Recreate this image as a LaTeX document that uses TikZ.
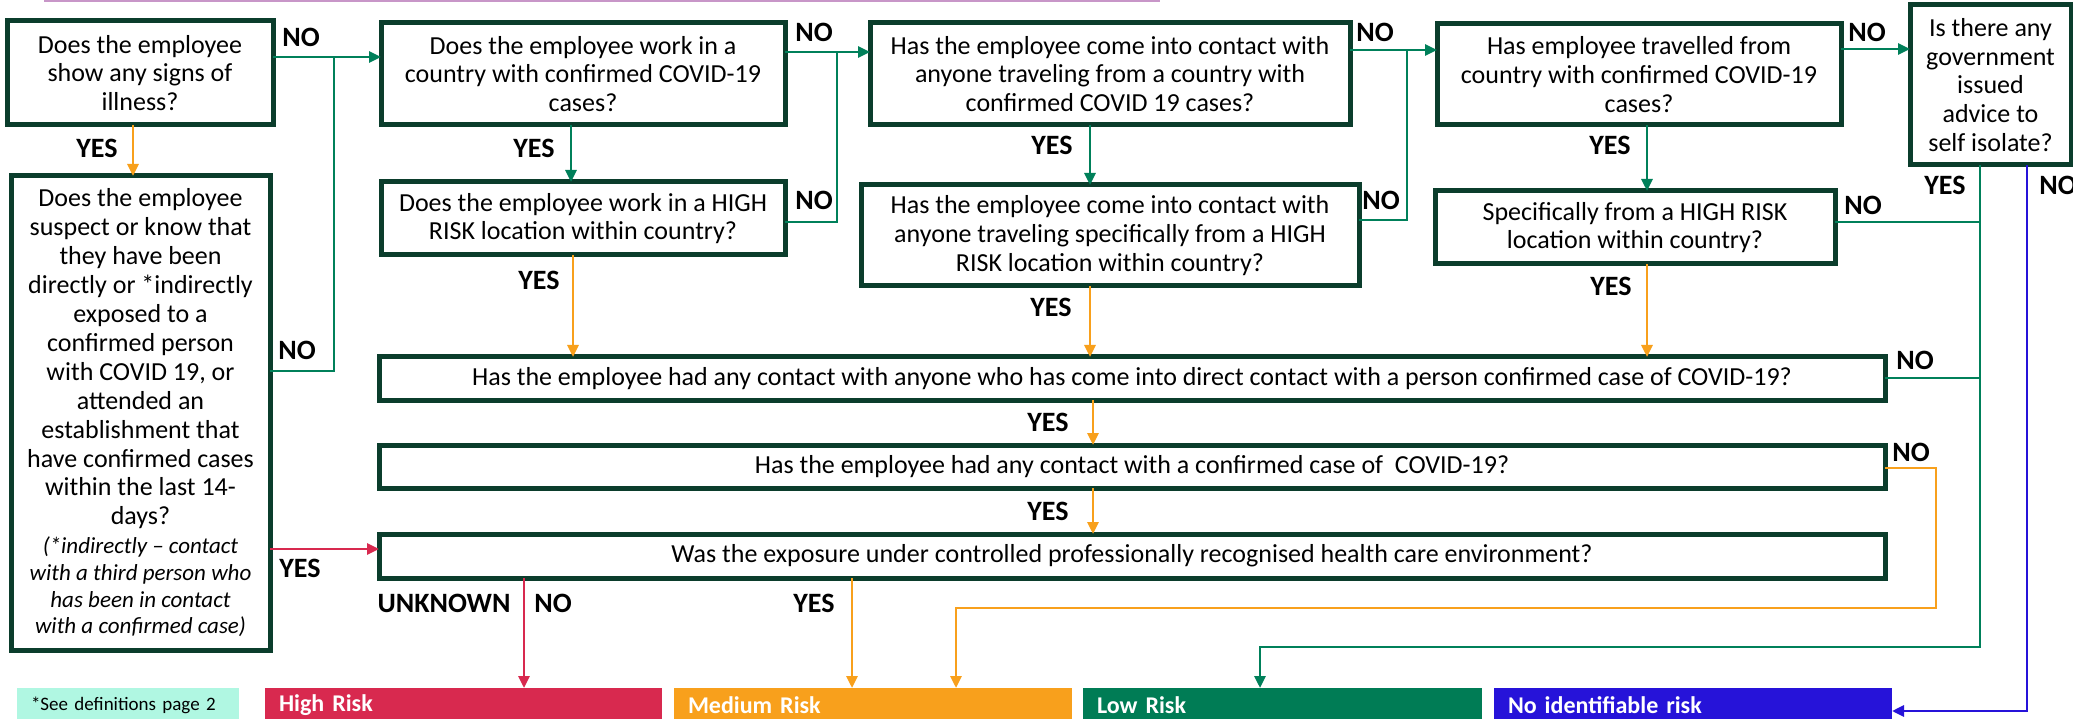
\documentclass[tikz,border=0pt]{standalone}
\usepackage{fontspec}
\setmainfont{Carlito}
\usetikzlibrary{arrows.meta}
\definecolor{bdr}{HTML}{0B3D2C}
\definecolor{cgreen}{HTML}{00805A}
\definecolor{cgreenbox}{HTML}{007C55}
\definecolor{corange}{HTML}{F8A01C}
\definecolor{cred}{HTML}{D8294F}
\definecolor{cblue}{HTML}{2613D9}
\definecolor{cmint}{HTML}{B0F7E2}
\definecolor{cpurple}{HTML}{C896C8}
\newcommand{\myital}[1]{{\itshape\fontsize{23}{28.9}\selectfont #1}}
\begin{document}
\begin{tikzpicture}[x=1pt,y=-1pt,
  qbox/.style={draw=bdr, line width=5pt, fill=white, inner sep=0pt, outer sep=0pt, align=center, font=\fontsize{26}{28.7}\selectfont},
  lbl/.style={font=\fontsize{28}{30}\selectfont\bfseries, inner sep=0pt},
  rbox/.style={anchor=north west, minimum height=34pt, inner xsep=14pt, inner ysep=0pt, outer sep=0pt, align=left, text=white, font=\fontsize{24}{28}\selectfont\bfseries},
  gline/.style={draw=cgreen, line width=2.8pt},
  oline/.style={draw=corange, line width=2.8pt},
  rline/.style={draw=cred, line width=2.8pt},
  bline/.style={draw=cblue, line width=2.8pt},
  arr/.style={-{Triangle[length=12pt,width=11pt]}}
]
\useasboundingbox (0,0) rectangle (2073,719);
\clip (0,0) rectangle (2073,719);
\fill[white] (0,0) rectangle (2073,719);

% top cut-off line
\draw[cpurple, line width=2pt] (44,1) -- (1160,1);

% question boxes
\node[qbox, minimum width=266pt, minimum height=104pt] (A) at (140,73) {Does the employee\\show any signs of\\illness?};
\node[qbox, minimum width=404pt, minimum height=102pt] (B) at (583,74) {Does the employee work in a\\country with confirmed COVID-19\\cases?};
\node[qbox, minimum width=480pt, minimum height=102pt] (D) at (1110,74) {Has the employee come into contact with\\anyone traveling from a country with\\confirmed COVID 19 cases?};
\node[qbox, minimum width=404pt, minimum height=101pt] (E) at (1639,74.5) {Has employee travelled from\\country with confirmed COVID-19\\cases?};
\node[qbox, minimum width=161pt, minimum height=160pt] (F) at (1990.5,85) {Is there any\\government\\issued\\advice to\\self isolate?};
\node[qbox, minimum width=404pt, minimum height=73pt] (B2) at (583,218.5) {Does the employee work in a HIGH\\RISK location within country?};
\node[qbox, minimum width=498pt, minimum height=101pt] (D2) at (1110,235.5) {Has the employee come into contact with\\anyone traveling specifically from a HIGH\\RISK location within country?};
\node[qbox, minimum width=400pt, minimum height=73pt] (E2) at (1635,227.5) {Specifically from a HIGH RISK\\location within country?};
\node[qbox, minimum width=259pt, minimum height=474pt, font=\fontsize{26}{28.9}\selectfont] (C) at (140.5,413) {Does the employee\\suspect or know that\\they have been\\directly or *indirectly\\exposed to a\\confirmed person\\with COVID 19, or\\attended an\\establishment that\\have confirmed cases\\within the last 14-\\days?\\\myital{(*indirectly – contact}\\[-2.2pt]\myital{with a third person who}\\[-2.2pt]\myital{has been in contact}\\[-2.2pt]\myital{with a confirmed case)}};
\node[qbox, minimum width=1506pt, minimum height=43pt] (G) at (1132,378.5) {Has the employee had any contact with anyone who has come into direct contact with a person confirmed case of COVID-19?};
\node[qbox, minimum width=1506pt, minimum height=43pt] (H) at (1132,466.5) {Has the employee had any contact with a confirmed case of~ COVID-19?};
\node[qbox, minimum width=1506pt, minimum height=44pt] (I) at (1132,556) {Was the exposure under controlled professionally recognised health care environment?};

% outcome boxes
\node[rbox, fill=cmint, text=black, font=\fontsize{19}{22}\selectfont, minimum width=222pt, text width=194pt] (DEF) at (17,688) {*See definitions page 2};
\node[rbox, fill=cred, minimum width=397pt, text width=369pt] (HR) at (265,688) {High Risk};
\node[rbox, fill=corange, minimum width=398pt, text width=370pt] (MR) at (674,688) {Medium Risk};
\node[rbox, fill=cgreenbox, minimum width=399pt, text width=371pt] (LR) at (1083,688) {Low Risk};
\node[rbox, fill=cblue, minimum width=398pt, text width=370pt] (NI) at (1494,688) {No identifiable risk};

% guide coordinates
\coordinate (yAB) at (0,57);
\coordinate (yBD) at (0,52);
\coordinate (yDE) at (0,50);
\coordinate (yEF) at (0,49);
\coordinate (xAN) at (334,0);
\coordinate (xBN) at (837,0);
\coordinate (xDN) at (1407,0);
\coordinate (xFY) at (1980,0);
\coordinate (xFN) at (2027,0);
\coordinate (yCN) at (0,371);
\coordinate (yB2N) at (0,222);
\coordinate (yD2N) at (0,220);
\coordinate (yE2N) at (0,222);
\coordinate (yGN) at (0,378);
\coordinate (yHN) at (0,468);
\coordinate (yCY) at (0,549);
\coordinate (xAY) at (133,0);
\coordinate (xBY) at (571,0);
\coordinate (xDY) at (1090,0);
\coordinate (xEY) at (1647,0);
\coordinate (xB2Y) at (573,0);
\coordinate (xGY) at (1093,0);
\coordinate (xIN) at (524,0);
\coordinate (xIY) at (852,0);
\coordinate (xHNr) at (1936,0);
\coordinate (yHNb) at (0,608);
\coordinate (xHNl) at (956,0);
\coordinate (yFYb) at (0,647);
\coordinate (xFYl) at (1260,0);
\coordinate (yFNb) at (0,711);

% NO connectors (green)
\draw[gline,arr] (A.east |- yAB) -- (B.west |- yAB);
\draw[gline] (C.east |- yCN) -| (xAN |- yAB);
\draw[gline,arr] (B.east |- yBD) -- (D.west |- yBD);
\draw[gline] (B2.east |- yB2N) -| (xBN |- yBD);
\draw[gline,arr] (D.east |- yDE) -- (E.west |- yDE);
\draw[gline] (D2.east |- yD2N) -| (xDN |- yDE);
\draw[gline,arr] (E.east |- yEF) -- (F.west |- yEF);
\draw[gline] (E2.east |- yE2N) -- (xFY |- yE2N);
\draw[gline] (G.east |- yGN) -- (xFY |- yGN);
\draw[gline,arr] (F.south -| xFY) |- (xFYl |- yFYb) -- (LR.north -| xFYl);
\draw[bline,arr] (F.south -| xFN) |- (NI.east |- yFNb);

% YES connectors
\draw[oline,arr] (A.south -| xAY) -- (C.north -| xAY);
\draw[gline,arr] (B.south -| xBY) -- (B2.north -| xBY);
\draw[gline,arr] (D.south -| xDY) -- (D2.north -| xDY);
\draw[gline,arr] (E.south -| xEY) -- (E2.north -| xEY);
\draw[oline,arr] (B2.south -| xB2Y) -- (G.north -| xB2Y);
\draw[oline,arr] (D2.south -| xDY) -- (G.north -| xDY);
\draw[oline,arr] (E2.south -| xEY) -- (G.north -| xEY);
\draw[oline,arr] (G.south -| xGY) -- (H.north -| xGY);
\draw[oline,arr] (H.south -| xGY) -- (I.north -| xGY);
\draw[rline,arr] (C.east |- yCY) -- (I.west |- yCY);
\draw[rline,arr] (I.south -| xIN) -- (HR.north -| xIN);
\draw[oline,arr] (I.south -| xIY) -- (MR.north -| xIY);
\draw[oline,arr] (H.east |- yHN) -| (xHNr |- yHNb) -| (MR.north -| xHNl);

% labels
\node[lbl] (l1) at (301,37) {NO};
\node[lbl] (l2) at (814,32) {NO};
\node[lbl] (l3) at (814,200) {NO};
\node[lbl] (l4) at (1375,32) {NO};
\node[lbl] (l5) at (1381,200) {NO};
\node[lbl] (l6) at (1867,32) {NO};
\node[lbl] (l7) at (1863,205) {NO};
\node[lbl] (l8) at (1915,360) {NO};
\node[lbl] (l9) at (1911,452) {NO};
\node[lbl] (l10) at (297,350) {NO};
\node[lbl] (l11) at (2058,185) {NO};
\node[lbl] (l12) at (553,603) {NO};
\node[lbl] (l13) at (444,603) {UNKNOWN};
\node[lbl] (y1) at (97,148) {YES};
\node[lbl] (y2) at (534,148) {YES};
\node[lbl] (y3) at (1052,145) {YES};
\node[lbl] (y4) at (1610,145) {YES};
\node[lbl] (y5) at (539,280) {YES};
\node[lbl] (y6) at (1051,307) {YES};
\node[lbl] (y7) at (1611,286) {YES};
\node[lbl] (y8) at (1048,422) {YES};
\node[lbl] (y9) at (1048,511) {YES};
\node[lbl] (y10) at (814,603) {YES};
\node[lbl] (y11) at (300,568) {YES};
\node[lbl] (y12) at (1945,185) {YES};
\end{tikzpicture}
\end{document}
